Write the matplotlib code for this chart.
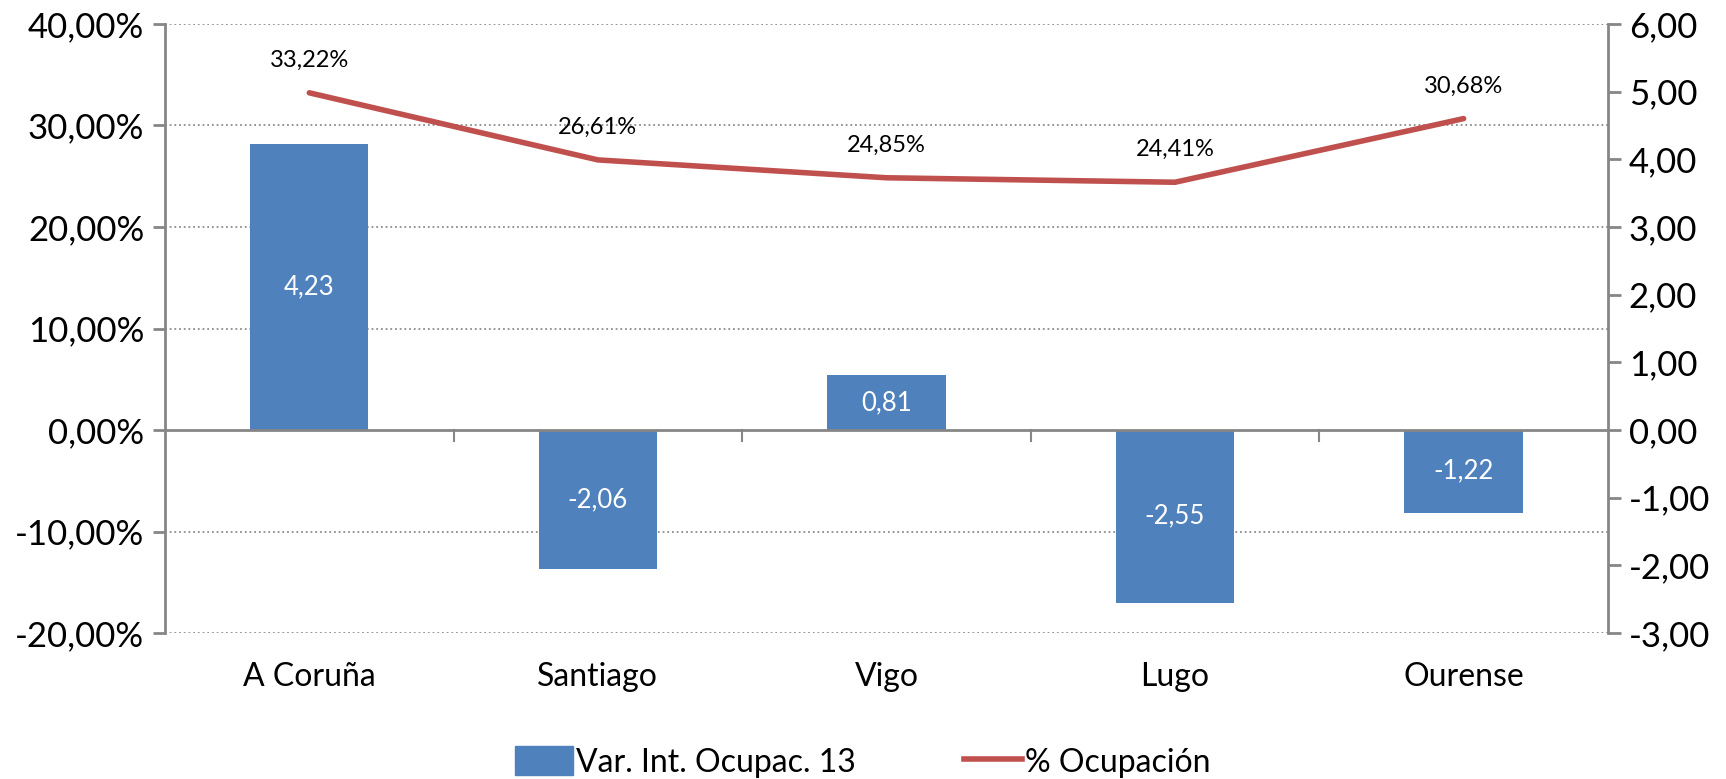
import matplotlib
matplotlib.use('Agg')
import matplotlib.pyplot as plt
import matplotlib.transforms as mtransforms
from matplotlib.lines import Line2D
from matplotlib.patches import Patch
import numpy as np

ciudades = ['A Coruña', 'Santiago', 'Vigo', 'Lugo', 'Ourense']
var_int = [4.23, -2.06, 0.81, -2.55, -1.22]          # eje derecho
ocupacion = [33.22, 26.61, 24.85, 24.41, 30.68]      # eje izquierdo, %
izq_ticks = [-20, -10, 0, 10, 20, 30, 40]
der_ticks = [-3, -2, -1, 0, 1, 2, 3, 4, 5, 6]

azul = '#4F81BD'
rojo = '#C0504D'
gris = '#868686'

def coma(v, dec=2):
    # formato con coma decimal
    return ('{:.%df}' % dec).format(v).replace('.', ',')

plt.rcParams['font.family'] = ['Lato', 'DejaVu Sans']

fig = plt.figure(figsize=(17.26, 7.79), dpi=100)
ax = fig.add_axes([0.0956, 0.1874, 0.836, 0.7818])
ax2 = ax.twinx()
ax3 = ax.twinx()

x = np.arange(len(ciudades))

# eje izquierdo: rejilla y marcas
ax.set_xlim(-0.5, len(ciudades) - 0.5)
ax.set_ylim(izq_ticks[0], izq_ticks[-1])
ax.set_yticks(izq_ticks)
ax.set_yticklabels([coma(t) + '%' for t in izq_ticks], fontsize=25)
for t in izq_ticks:
    if t != 0:
        ax.axhline(t, color='#8c8c8c', lw=1.3, ls=(0, (1, 1.6)), zorder=0)
ax.tick_params(axis='y', length=9, width=2, color=gris, pad=6)
ax.set_xticks([])
for s in ['top', 'right', 'bottom']:
    ax.spines[s].set_visible(False)
ax.spines['left'].set_color(gris)
ax.spines['left'].set_linewidth(2)

# barras en eje derecho
ax2.set_ylim(der_ticks[0], der_ticks[-1])
ax2.set_yticks(der_ticks)
ax2.set_yticklabels([coma(t) for t in der_ticks], fontsize=25)
ax2.tick_params(axis='y', length=9, width=2, color=gris, pad=6)
for s in ['top', 'left', 'bottom']:
    ax2.spines[s].set_visible(False)
ax2.spines['right'].set_color(gris)
ax2.spines['right'].set_linewidth(2)
barras = ax2.bar(x, var_int, width=0.41, color=azul, zorder=2)
for b, v in zip(barras, var_int):
    ax2.text(b.get_x() + b.get_width() / 2, v / 2, coma(v), ha='center', va='center',
             color='white', fontsize=18.5)

# linea cero con marcas entre categorias
ax2.axhline(0, color=gris, lw=2, zorder=3)
for xb in np.arange(0.5, len(ciudades) - 0.5, 1):
    ax2.plot([xb, xb], [0, -0.16], color=gris, lw=1.5, zorder=3)

# linea de ocupacion
ax3.set_ylim(ax.get_ylim())
ax3.axis('off')
ax3.plot(x, ocupacion, color=rojo, lw=4, solid_capstyle='round')
for xi, v in zip(x, ocupacion):
    ax3.annotate(coma(v) + '%', (xi, v), xytext=(0, 16), textcoords='offset points',
                 ha='center', va='bottom', fontsize=17)

# etiquetas de categoria
trans = mtransforms.blended_transform_factory(ax.transData, ax.transAxes)
for xi, c in zip(x, ciudades):
    ax.text(xi, -0.072, c, transform=trans, ha='center', va='center', fontsize=23)

handles = [Patch(color=azul, label='Var. Int. Ocupac. 13'),
           Line2D([0], [0], color=rojo, lw=4, label='% Ocupación')]
fig.legend(handles=handles, loc='lower center', bbox_to_anchor=(0.5, -0.035), ncol=2,
           frameon=False, fontsize=23, handlelength=1.8, handleheight=1.0,
           handletextpad=0.1, columnspacing=3.4)

fig.savefig('out.png', dpi=100)
